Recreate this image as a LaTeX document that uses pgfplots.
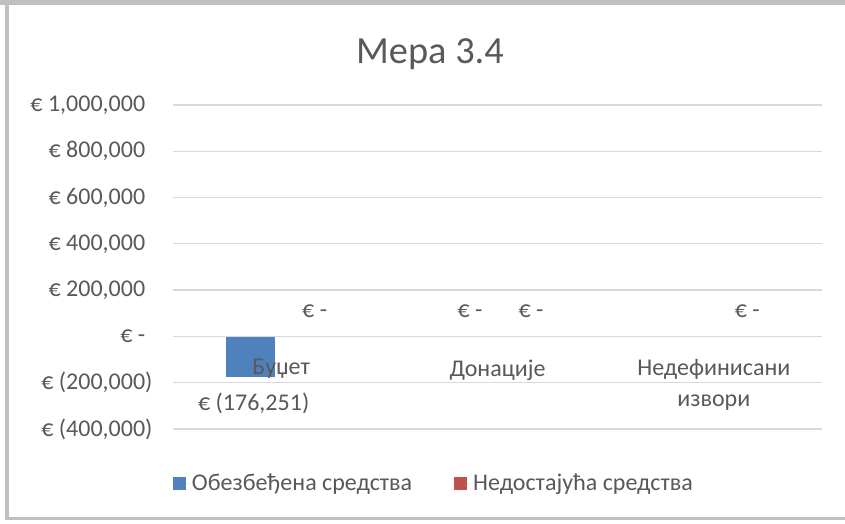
\documentclass[border=0pt]{standalone}
\usepackage{pgfplots}
\pgfplotsset{compat=1.18}
\usepackage{fontspec}
\setmainfont{Carlito}
\definecolor{txt}{HTML}{595959}
\definecolor{gridc}{HTML}{D9D9D9}
\definecolor{bblue}{HTML}{4F81BD}
\definecolor{bred}{HTML}{C0504D}
\definecolor{framec}{HTML}{BFBFBF}
\newcommand{\lblfont}{\fontsize{24.1}{30.5}\selectfont}
\begin{document}
\begin{tikzpicture}[x=1bp,y=1bp]
\fill[white] (0,0) rectangle (845,524);
\fill[framec] (0,519) rectangle (845,524);
\fill[framec] (5,4) rectangle (9,524);
\fill[framec] (5,4) rectangle (845,7);
\begin{axis}[
  at={(173bp,95bp)}, anchor=south west,
  scale only axis, width=649bp, height=324bp,
  xmin=-0.5, xmax=2.5, ymin=-400000, ymax=1000000,
  ytick={-400000,-200000,0,200000,400000,600000,800000,1000000},
  yticklabels={{€ (400,000)},{€ (200,000)},{€ -\hphantom{)}},{€ 200,000\hphantom{)}},{€ 400,000\hphantom{)}},{€ 600,000\hphantom{)}},{€ 800,000\hphantom{)}},{€ 1,000,000\hphantom{)}}},
  scaled y ticks=false,
  xtick={0,1,2},
  xticklabels={Буџет,Донације,{Недефинисани\\извори}},
  xticklabel style={align=center, anchor=north, yshift=73bp, font=\lblfont, text=txt},
  yticklabel style={font=\lblfont, text=txt, xshift=-17bp},
  ymajorgrids, grid style={gridc, line width=1.3bp},
  axis on top,
  axis line style={draw=none}, major tick length=0pt,
  ybar, bar width=49bp,
  nodes near coords, point meta=explicit symbolic,
  every node near coord/.append style={font=\lblfont, text=txt, inner ysep=19bp, xshift=3bp},
  title={Мера 3.4},
  title style={at={(0.396,1)}, anchor=base, yshift=36bp, font=\fontsize{38.5}{46}\selectfont, text=txt},
  legend columns=2,
  legend style={at={(0.402,-0.1667)}, anchor=center, draw=none, fill=none, font=\lblfont, text=txt,
    /tikz/every even column/.append style={column sep=40bp}},
  legend image code/.code={\fill[#1,draw=none] (0bp,-6.5bp) rectangle (13bp,6.5bp); \path (0bp,0bp) -- (17bp,0bp);},
]
\addplot[fill=bblue, draw=none, bar shift=-30.5bp,
  every node near coord/.append style={anchor=north, inner ysep=16bp}]
  coordinates {(0,-176251) [€ (176,251)]};
\addplot[fill=bred, draw=none, bar shift=30.5bp]
  coordinates {(0,0) [€ -] (1,0) [€ -] (2,0) [€ -]};
\addplot[fill=bblue, draw=none, bar shift=-30.5bp, forget plot]
  coordinates {(1,0) [€ -]};
\legend{Обезбеђена средства, Недостајућа средства}
\end{axis}
\pgfresetboundingbox
\path (0,0) rectangle (845,524);
\end{tikzpicture}
\end{document}
